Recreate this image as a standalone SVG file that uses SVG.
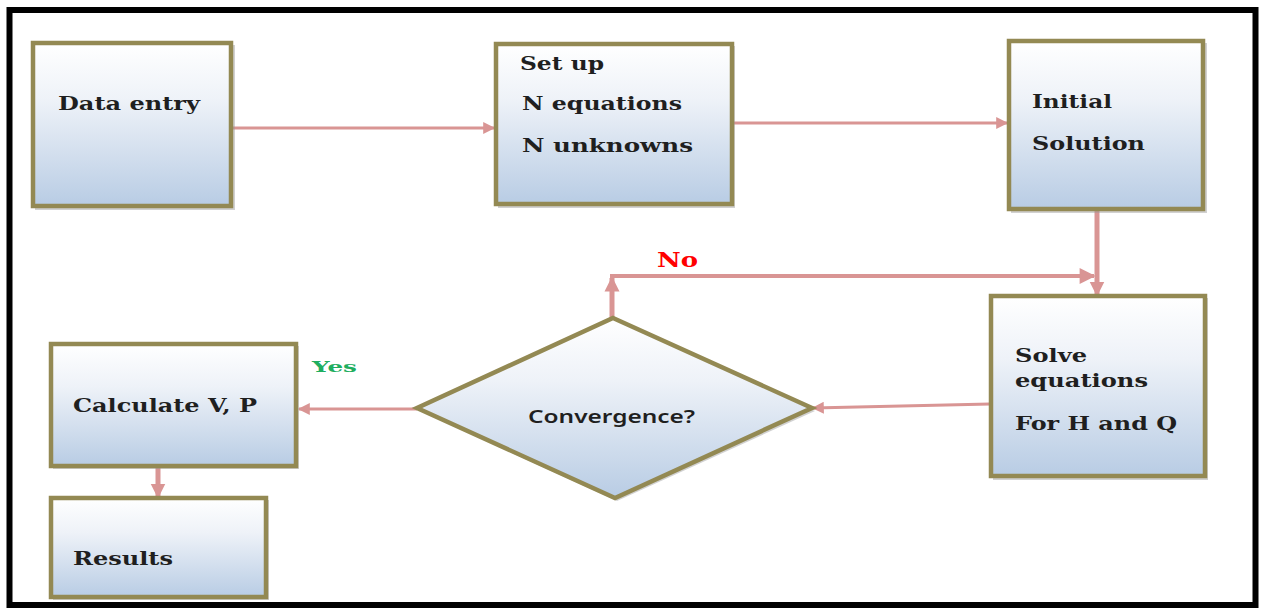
<svg xmlns="http://www.w3.org/2000/svg" width="1262" height="613" viewBox="0 0 1262 613">
<style>
.box{stroke:#938953;stroke-width:4.5;fill:url(#g)}
.sh{fill:#9a9a9a;opacity:0.45}
.t{font-family:"DejaVu Serif","Liberation Serif",serif;font-weight:bold;font-size:18px;fill:#1f1f1f}
.c{stroke:#D99594;fill:none}
</style>
<defs>
<linearGradient id="g" x1="0" y1="0" x2="0" y2="1">
<stop offset="0" stop-color="#ffffff"/>
<stop offset="0.35" stop-color="#eef2f8"/>
<stop offset="1" stop-color="#b8cce4"/>
</linearGradient>
<marker id="a" viewBox="0 0 10 10" refX="9" refY="5" markerWidth="5" markerHeight="4" orient="auto" markerUnits="strokeWidth">
<path d="M0,0 L10,5 L0,10 z" fill="#D99594"/>
</marker>
<marker id="b" viewBox="0 0 10 10" refX="9" refY="5" markerWidth="3" markerHeight="4" orient="auto" markerUnits="strokeWidth">
<path d="M0,0 L10,5 L0,10 z" fill="#D99594"/>
</marker>
</defs>
<rect x="0" y="0" width="1262" height="613" fill="#fff"/>
<rect x="9.5" y="10" width="1246" height="595" fill="none" stroke="#000" stroke-width="6"/>

<g id="connectors">
<line class="c" x1="232" y1="128" x2="494" y2="128" stroke-width="3" marker-end="url(#a)"/>
<line class="c" x1="732" y1="123" x2="1007" y2="123" stroke-width="3" marker-end="url(#a)"/>
<line class="c" x1="1097" y1="210" x2="1097" y2="295" stroke-width="5" marker-end="url(#b)"/>
<line class="c" x1="612" y1="318" x2="612" y2="278" stroke-width="5" marker-end="url(#b)"/>
<line class="c" x1="610" y1="276" x2="1094" y2="276" stroke-width="4" marker-end="url(#a)"/>
<line class="c" x1="990" y1="404" x2="813" y2="408" stroke-width="3" marker-end="url(#a)"/>
<line class="c" x1="417" y1="409" x2="299" y2="409" stroke-width="3" marker-end="url(#a)"/>
<line class="c" x1="158" y1="467" x2="158" y2="497" stroke-width="5" marker-end="url(#b)"/>
</g>

<g id="data-entry">
<rect class="sh" x="35" y="45" width="200" height="165"/>
<rect class="box" x="33" y="43" width="198" height="163"/>
<text class="t" x="58" y="110" textLength="142" lengthAdjust="spacingAndGlyphs">Data entry</text>
</g>

<g id="setup">
<rect class="sh" x="498" y="46" width="237" height="162"/>
<rect class="box" x="496" y="44" width="236" height="160"/>
<text class="t" x="520" y="70" textLength="84" lengthAdjust="spacingAndGlyphs">Set up</text>
<text class="t" x="522" y="110" textLength="160" lengthAdjust="spacingAndGlyphs">N equations</text>
<text class="t" x="522" y="152" textLength="171" lengthAdjust="spacingAndGlyphs">N unknowns</text>
</g>

<g id="initial">
<rect class="sh" x="1011" y="43" width="196" height="170"/>
<rect class="box" x="1009" y="41" width="194" height="168"/>
<text class="t" x="1032" y="108" textLength="80" lengthAdjust="spacingAndGlyphs">Initial</text>
<text class="t" x="1032" y="150" textLength="113" lengthAdjust="spacingAndGlyphs">Solution</text>
</g>

<g id="solve">
<rect class="sh" x="993" y="298" width="215" height="182"/>
<rect class="box" x="991" y="296" width="214" height="180"/>
<text class="t" x="1015" y="362" textLength="72" lengthAdjust="spacingAndGlyphs">Solve</text>
<text class="t" x="1015" y="387" textLength="133" lengthAdjust="spacingAndGlyphs">equations</text>
<text class="t" x="1015" y="430" textLength="162" lengthAdjust="spacingAndGlyphs">For H and Q</text>
</g>

<g id="convergence">
<polygon class="sh" points="615,321 815,411 617,501 420,411"/>
<polygon class="box" points="613,318 812,408 615,498 417,408"/>
<text x="528" y="423" font-family="'Noto Sans','Liberation Sans',sans-serif" font-weight="600" font-size="18" fill="#1f1f1f" textLength="167" lengthAdjust="spacingAndGlyphs">Convergence?</text>
</g>

<g id="calculate">
<rect class="sh" x="53" y="346" width="246" height="123"/>
<rect class="box" x="51" y="344" width="245" height="122"/>
<text class="t" x="73" y="412" textLength="184" lengthAdjust="spacingAndGlyphs">Calculate V, P</text>
</g>

<g id="results">
<rect class="sh" x="53" y="500" width="216" height="100"/>
<rect class="box" x="51" y="498" width="215" height="99"/>
<text class="t" x="73" y="565" textLength="100" lengthAdjust="spacingAndGlyphs">Results</text>
</g>

<g id="labels">
<text x="657" y="267" font-family="'DejaVu Serif','Liberation Serif',serif" font-weight="bold" font-size="20" fill="#ff0000" textLength="41" lengthAdjust="spacingAndGlyphs">No</text>
<text x="312" y="372" font-family="'DejaVu Serif','Liberation Serif',serif" font-weight="bold" font-size="15" fill="#1fae5f" textLength="45" lengthAdjust="spacingAndGlyphs">Yes</text>
</g>
</svg>
